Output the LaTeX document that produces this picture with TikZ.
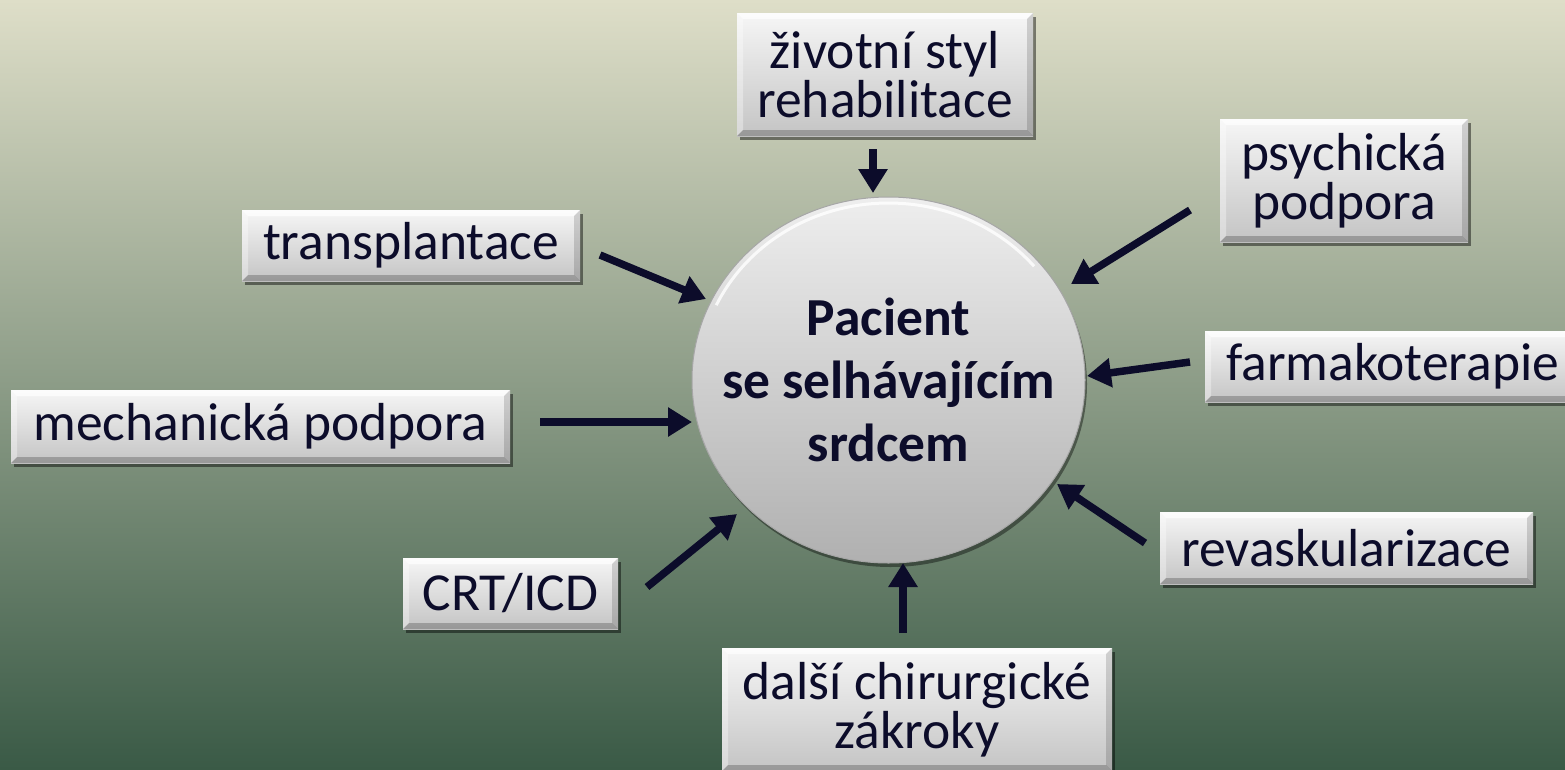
\documentclass[tikz,border=0pt]{standalone}
\usepackage{fontspec}
\setmainfont{Carlito}
\usetikzlibrary{arrows.meta,shapes.geometric,shadows}
\definecolor{txt}{RGB}{12,12,42}
\definecolor{bgtop}{RGB}{222,222,200}
\definecolor{bgmid}{RGB}{140,158,134}
\definecolor{bgbot}{RGB}{58,90,70}
\definecolor{boxtop}{RGB}{246,246,246}
\definecolor{boxbot}{RGB}{196,196,196}
\definecolor{cirtop}{RGB}{238,238,238}
\definecolor{cirbot}{RGB}{176,176,176}
\tikzset{
  btn/.style={rectangle, inner sep=0pt, top color=boxtop, bottom color=boxbot,
    text=txt, font=\fontsize{53.5}{49}\selectfont, align=center,
    drop shadow={shadow xshift=3pt, shadow yshift=-4pt, opacity=0.45, fill=black},
    path picture={
      \fill[white,opacity=.7] (path picture bounding box.north west) -- (path picture bounding box.north east)
        -- ([shift={(-6pt,-6pt)}]path picture bounding box.north east) -- ([shift={(6pt,-6pt)}]path picture bounding box.north west) -- cycle;
      \fill[white,opacity=.35] (path picture bounding box.north west) -- ([shift={(6pt,-6pt)}]path picture bounding box.north west)
        -- ([shift={(6pt,6pt)}]path picture bounding box.south west) -- (path picture bounding box.south west) -- cycle;
      \fill[black,opacity=.15] (path picture bounding box.north east) -- ([shift={(-6pt,-6pt)}]path picture bounding box.north east)
        -- ([shift={(-6pt,6pt)}]path picture bounding box.south east) -- (path picture bounding box.south east) -- cycle;
      \fill[black,opacity=.22] (path picture bounding box.south west) -- ([shift={(6pt,6pt)}]path picture bounding box.south west)
        -- ([shift={(-6pt,6pt)}]path picture bounding box.south east) -- (path picture bounding box.south east) -- cycle;
    }},
  arr/.style={line width=7.5pt, draw=txt, -{Triangle[length=24pt,width=28pt]}},
}
\begin{document}
\begin{tikzpicture}[x=1pt,y=-1pt]
\useasboundingbox (0,0) rectangle (1565,769);
\fill[top color=bgtop, middle color=bgmid, bottom color=bgbot] (0,0) rectangle (1565,769);

% central ellipse
\node[ellipse, minimum width=393pt, minimum height=366pt, inner sep=0pt,
  top color=cirtop, bottom color=cirbot, draw=black!35, line width=1pt,
  drop shadow={shadow xshift=2pt, shadow yshift=-4pt, opacity=0.4, fill=black}]
  (pac) at (888.5,380) {};
\draw[white, opacity=.8, line width=3pt] (pac.center) ++(155:190pt and 177pt) arc[start angle=155, end angle=40, x radius=190pt, y radius=177pt];
\node[text=txt, font=\bfseries\fontsize{53.5}{63}\selectfont, align=center, inner sep=0pt]
  (pactxt) at (pac.center) {Pacient\\se selhávajícím\\srdcem};

% boxes
\node[btn, minimum width=296pt, minimum height=123pt] (ziv) at (885,74.5) {životní styl\\rehabilitace};
\node[btn, minimum width=248pt, minimum height=123pt] (psy) at (1344,180.5) {psychická\\podpora};
\node[btn, minimum width=338pt, minimum height=71pt] (tra) at (411,245.5) {transplantace};
\node[btn, minimum width=375pt, minimum height=71pt] (far) at (1392.5,366.5) {farmakoterapie};
\node[btn, minimum width=499pt, minimum height=73pt] (mec) at (260.5,426.5) {mechanická podpora};
\node[btn, minimum width=373pt, minimum height=72pt] (rev) at (1346.5,548) {revaskularizace};
\node[btn, minimum width=215pt, minimum height=71pt] (crt) at (510.5,593.5) {CRT/ICD};
\node[btn, minimum width=390pt, minimum height=123pt] (dal) at (917,709.5) {další chirurgické\\zákroky};

% arrow end points
\coordinate (a1s) at (873,149);   \coordinate (a1e) at (873,193);
\coordinate (a2s) at (600,255);   \coordinate (a2e) at (706,299);
\coordinate (a3s) at (1190,210);  \coordinate (a3e) at (1071,284);
\coordinate (a4s) at (1190,362);  \coordinate (a4e) at (1087,376);
\coordinate (a5s) at (540,422);   \coordinate (a5e) at (692,422);
\coordinate (a6s) at (647,587);   \coordinate (a6e) at (737,514);
\coordinate (a7s) at (1145,543);  \coordinate (a7e) at (1057,484);
\coordinate (a8s) at (903,633);   \coordinate (a8e) at (903,563);

\draw[arr] (a1s) -- (a1e);
\draw[arr] (a2s) -- (a2e);
\draw[arr] (a3s) -- (a3e);
\draw[arr] (a4s) -- (a4e);
\draw[arr] (a5s) -- (a5e);
\draw[arr] (a6s) -- (a6e);
\draw[arr] (a7s) -- (a7e);
\draw[arr] (a8s) -- (a8e);
\end{tikzpicture}
\end{document}
